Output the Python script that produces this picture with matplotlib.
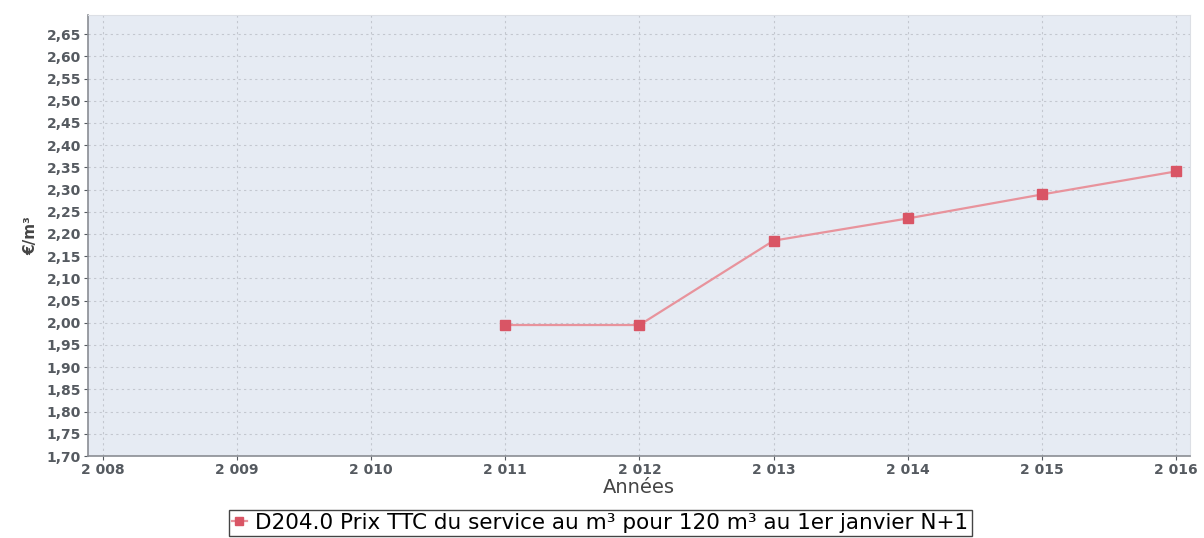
import matplotlib
matplotlib.use("Agg")
import matplotlib.pyplot as plt
from matplotlib.ticker import FuncFormatter, MultipleLocator

years = [2011, 2012, 2013, 2014, 2015, 2016]
prix = [1.995, 1.995, 2.185, 2.235, 2.289, 2.341]
series_label = "D204.0 Prix TTC du service au m³ pour 120 m³ au 1er janvier N+1"

fig = plt.figure(figsize=(12.04, 5.38), dpi=100)
ax = fig.add_axes([0.0731, 0.1524, 0.9149, 0.8196])
ax.set_facecolor("#e6ebf3")

ax.plot(years, prix, color="#e8939c", linewidth=1.6, marker="s", markersize=7,
        markerfacecolor="#d95565", markeredgecolor="#d95565", label=series_label,
        zorder=3)

ax.set_xlim(2007.89, 2016.1)
ax.set_ylim(1.70, 2.693)
ax.xaxis.set_major_locator(MultipleLocator(1))
ax.yaxis.set_major_locator(MultipleLocator(0.05))
ax.xaxis.set_major_formatter(FuncFormatter(lambda v, p: f"{int(round(v)):,}".replace(",", " ")))
ax.yaxis.set_major_formatter(FuncFormatter(lambda v, p: f"{v:.2f}".replace(".", ",")))

ax.grid(True, color="#c3c7cf", linestyle=(0, (2, 3)), linewidth=0.8)
ax.tick_params(axis="both", labelsize=10, colors="#555a60", length=3, width=0.8, pad=2)
for lbl in ax.get_xticklabels() + ax.get_yticklabels():
    lbl.set_fontweight("bold")

for side in ["top", "right"]:
    ax.spines[side].set_color("#dcdfe5")
for side in ["left", "bottom"]:
    ax.spines[side].set_color("#8a8d93")
    ax.spines[side].set_linewidth(1.2)

ax.set_xlabel("Années", fontsize=14, color="#444444", labelpad=1)
ax.set_ylabel("€/m³", fontsize=11, color="#444444", fontweight="bold", labelpad=6)

fig.legend(loc="center", bbox_to_anchor=(0.4985, 0.028), fontsize=15.5,
           frameon=True, fancybox=False, edgecolor="#444444", framealpha=1,
           handlelength=0.7, handletextpad=0.4, borderpad=0.15,
           markerscale=0.8)

fig.savefig("out.png", dpi=100)
